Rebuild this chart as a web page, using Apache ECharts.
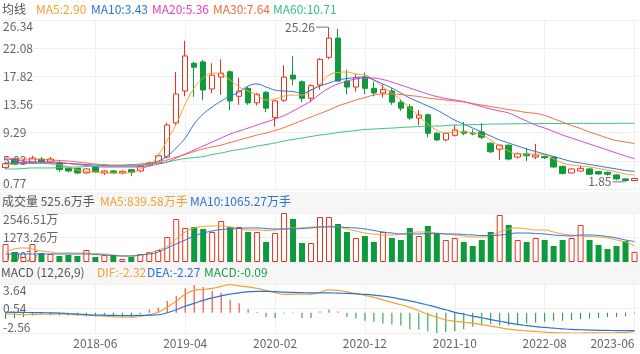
<!DOCTYPE html>
<html><head><meta charset="utf-8">
<script src="https://cdn.jsdelivr.net/npm/echarts/dist/echarts.min.js"></script>
<style>html,body{margin:0;padding:0;background:#fff}#c{width:640px;height:354px}</style>
</head><body><div id="c"></div>
<script>
const months = ['2017-08','2017-09','2017-10','2017-11','2017-12',
'2018-01','2018-02','2018-03','2018-04','2018-05','2018-06','2018-07','2018-08','2018-09','2018-10','2018-11','2018-12',
'2019-01','2019-02','2019-03','2019-04','2019-05','2019-06','2019-07','2019-08','2019-09','2019-10','2019-11','2019-12',
'2020-01','2020-02','2020-03','2020-04','2020-05','2020-06','2020-07','2020-08','2020-09','2020-10','2020-11','2020-12',
'2021-01','2021-02','2021-03','2021-04','2021-05','2021-06','2021-07','2021-08','2021-09','2021-10','2021-11','2021-12',
'2022-01','2022-02','2022-03','2022-04','2022-05','2022-06','2022-07','2022-08','2022-09','2022-10','2022-11','2022-12',
'2023-01','2023-02','2023-03','2023-04','2023-05','2023-06'];

const open = [4.0,5.3,4.6,4.7,5.3,4.85,4.7,3.9,3.9,3.2, 4.1,3.2,3.5,3.2,3.7,3.5,4.4,4.7,5.6,10.75,
 15.6,19.8,20.0,15.9,17.7,18.5,14.8,16.0,13.8,15.4, 11.6,14.2,18.0,17.0,14.5,16.5,20.7,23.6,17.1,16.2,
 17.7,16.0,15.3,15.6,13.9,13.2,11.5,12.0,9.2,8.2, 8.9,9.5,9.25,9.4,7.7,6.8,7.4,5.6,6.1,5.6,
 5.7,5.6,4.2,3.2,3.5,3.8,3.4,3.3,2.9,2.3, 2.05];
const close = [4.6,4.55,4.8,5.45,4.85,5.3,3.7,3.5,3.2,3.8, 3.35,3.5,3.2,3.45,3.3,4.2,4.7,5.8,10.45,15.14,
 20.9,19.2,15.75,18.0,18.3,14.1,15.6,13.8,15.1,13.0, 14.1,17.7,17.4,14.5,16.4,20.4,23.6,17.1,16.2,17.6,
 16.0,15.3,15.8,13.9,13.0,11.5,11.95,9.2,8.2,9.2, 9.7,9.2,9.1,8.6,6.4,7.4,5.3,6.1,5.8,5.9,
 5.5,4.1,3.1,3.8,3.9,3.0,3.05,3.0,2.3,2.05, 2.35];
const low = [3.8,4.4,4.4,4.6,4.7,4.7,3.35,3.3,3.0,3.1, 3.2,2.9,3.0,3.0,2.7,3.3,4.2,4.6,5.4,10.3,
 14.8,14.7,14.2,15.3,15.0,12.7,13.5,13.5,13.4,12.4, 10.2,13.9,16.5,13.9,13.9,15.8,20.4,17.0,15.1,15.5,
 15.1,14.8,14.6,13.5,12.6,11.2,10.4,8.6,8.0,8.0, 8.7,8.9,8.9,8.3,6.2,5.16,5.1,5.4,5.0,5.3,
 5.3,4.0,3.0,3.1,3.4,2.9,2.9,2.8,2.1,1.85, 2.0];
const high = [4.9,5.5,5.2,5.8,5.6,5.6,5.1,4.0,4.0,3.9, 4.2,3.6,3.6,3.55,3.8,4.3,4.9,6.1,10.8,18.47,
 23.2,20.0,20.3,19.8,20.4,18.7,17.6,16.2,15.3,15.6, 14.2,19.5,20.9,17.2,16.6,20.6,25.26,25.0,18.8,18.2,
 18.4,17.0,16.6,16.0,14.3,13.6,12.7,12.2,9.4,9.3, 10.45,10.9,9.8,10.75,7.8,7.5,7.5,6.3,7.0,7.6,
 5.8,5.7,4.3,3.9,4.3,3.95,3.5,3.4,3.0,2.4, 2.45];

const ma5 = [4.4,4.55,4.7,4.7,4.7,4.55,4.4,4.1,3.64,3.42, 3.34,3.19,3.19,3.19,3.27,3.79,4.4,5.91,8.18,10.6,
 13.62,16.04,17.56,18.31,18.16,17.25,16.2,15.59,14.98,14.23, 14.38,14.83,14.98,14.98,15.74,16.65,18.01,18.39,18.46,18.16,
 18.01,17.25,16.2,15.29,14.23,13.02,11.81,10.6,9.69,9.24, 9.39,9.39,9.24,8.94,8.18,7.27,6.52,6.06,6.06,6.06,
 5.91,5.31,4.7,4.4,4.25,4.1,3.87,3.64,3.34,3.04, 2.90];
const ma10 = [4.7,4.7,4.7,4.7,4.7,4.7,4.7,4.63,4.55,4.47, 4.4,4.32,4.25,4.25,4.25,4.32,4.55,5.0,5.76,6.97,
 8.48,10.6,12.11,13.17,14.08,14.83,15.44,16.35,16.65,16.2, 15.74,15.59,15.51,15.29,15.74,16.35,16.8,17.25,17.48,17.63,
 17.71,17.25,16.65,16.04,15.29,14.53,13.93,13.32,12.72,11.96, 11.2,10.6,9.99,9.39,8.78,8.18,7.73,7.27,6.82,6.44,
 6.06,5.68,5.31,4.93,4.7,4.47,4.25,4.02,3.8,3.57, 3.43];
const ma20 = [5.31,5.16,5.0,4.93,4.85,4.85,4.78,4.63,4.47,4.32, 4.17,4.1,4.1,4.1,4.1,4.1,4.25,4.55,4.85,5.46,
 6.06,6.67,7.27,7.88,8.48,9.09,9.54,9.99,10.45,10.9, 11.36,11.88,12.57,13.32,14.08,15.14,16.04,16.65,17.1,17.4,
 17.56,17.56,17.33,16.95,16.5,16.04,15.59,15.14,14.76,14.46, 14.23,14.0,13.62,13.25,12.87,12.57,12.26,11.66,11.05,10.45,
 9.99,9.47,8.94,8.48,8.03,7.57,7.12,6.67,6.21,5.76, 5.36];
const ma30 = [5.46,5.38,5.31,5.31,5.23,5.16,5.08,5.0,4.85,4.7, 4.55,4.47,4.4,4.4,4.47,4.55,4.7,4.93,5.16,5.61,
 5.99,6.44,6.82,7.12,7.42,7.8,8.18,8.56,8.94,9.24, 9.62,10.07,10.6,11.13,11.66,12.19,12.72,13.32,13.78,14.23,
 14.61,14.98,15.14,15.14,15.06,14.91,14.76,14.53,14.38,14.23, 14.08,13.93,13.7,13.47,13.25,13.02,12.79,12.57,12.34,12.2,
 11.9,11.4,10.9,10.37,9.92,9.39,8.94,8.48,8.1,7.88, 7.64];
const ma60 = [3.8,3.8,3.87,3.95,3.95,3.95,4.02,4.1,4.1,4.17, 4.25,4.25,4.25,4.32,4.4,4.4,4.55,4.7,4.85,5.15,
 5.38,5.53,5.68,5.99,6.21,6.52,6.74,6.97,7.27,7.5, 7.73,8.03,8.26,8.48,8.71,8.94,9.09,9.31,9.47,9.62,
 9.77,9.84,9.92,9.99,10.07,10.15,10.22,10.3,10.3,10.37, 10.45,10.45,10.52,10.52,10.6,10.6,10.62,10.64,10.65,10.66,
 10.67,10.68,10.68,10.69,10.69,10.7,10.7,10.7,10.71,10.71, 10.71];

const volume = [935,520,260,935,468,416,312,364,312,624, 260,364,364,156,260,416,520,624,1299,2235,
 1767,1819,1715,1559,2131,1819,1819,1559,1559,1039, 1507,2546.51,2235,987,987,2339,2339,1975,1559,1247,
 1351,1039,1559,1247,1143,1767,1351,1871,1455,1143, 1247,1039,832,1143,1559,2443,1923,1143,1039,1247,
 1143,832,1143,1247,1923,1143,884,676,832,1091, 525.6];
const volMa5 = [520,676,728,676,572,520,468,468,468,468, 442,416,364,312,312,364,468,624,832,1195,
 1559,1767,1845,1871,1871,1819,1741,1663,1663,1637, 1663,1715,1767,1767,1819,1819,1871,1819,1715,1611,
 1507,1455,1403,1403,1455,1507,1559,1559,1507,1455, 1403,1351,1299,1299,1403,1559,1715,1767,1715,1663,
 1663,1559,1455,1403,1351,1325,1299,1247,1143,1039, 839.58];
const volMa10 = [416,416,416,416,416,416,416,416,416,416, 390,364,338,312,312,364,416,520,728,935,
 1143,1351,1507,1611,1689,1715,1741,1767,1767,1741, 1715,1715,1715,1741,1767,1819,1819,1819,1793,1767,
 1715,1637,1559,1507,1455,1455,1455,1481,1481,1455, 1455,1429,1403,1377,1377,1403,1455,1507,1507,1481,
 1455,1403,1377,1351,1403,1403,1377,1325,1247,1143, 1065.27];

const dif = [-0.15,-0.19,-0.23,-0.21,-0.19,-0.16,-0.15,-0.19,-0.25,-0.31, -0.38,-0.44,-0.5,-0.57,-0.57,-0.44,-0.25,0.06,0.69,1.45,
 2.33,2.83,2.96,3.08,3.33,3.55,3.4,3.27,3.08,2.83, 2.58,2.33,2.35,2.36,2.36,2.58,2.89,2.83,2.64,2.45,
 2.2,1.95,1.64,1.32,1.01,0.69,0.25,-0.19,-0.57,-0.88, -1.07,-1.2,-1.32,-1.51,-1.7,-1.89,-2.08,-2.2,-2.29,-2.36,
 -2.45,-2.52,-2.55,-2.56,-2.56,-2.55,-2.54,-2.53,-2.52,-2.5, -2.32];
const dea = [0.09,0.06,0.04,0.03,0.01,-0.01,-0.04,-0.1,-0.16,-0.23, -0.29,-0.31,-0.34,-0.35,-0.35,-0.34,-0.31,-0.25,0,0.38,
 0.82,1.19,1.57,1.89,2.14,2.35,2.52,2.64,2.7,2.7, 2.67,2.6,2.58,2.54,2.52,2.52,2.52,2.48,2.45,2.39,
 2.33,2.24,2.11,1.95,1.72,1.51,1.26,0.98,0.69,0.38, 0.06,-0.19,-0.42,-0.63,-0.86,-1.07,-1.28,-1.47,-1.62,-1.75,
 -1.86,-1.95,-2.03,-2.1,-2.15,-2.19,-2.22,-2.24,-2.25,-2.26, -2.27];
const macd = [-0.75,-0.7,-0.55,-0.35,-0.2,-0.3,-0.35,-0.35,-0.35,-0.45, -0.45,-0.35,-0.35,-0.55,-0.55,-0.15,0.42,0.63,1.48,2.11,
 3.1,3.5,3.25,2.8,2.5,1.65,1.2,0.45,0.1,-0.55, -0.65,-0.08,0.05,-0.65,-0.65,0.2,0.42,0.15,-0.55,-0.72,
 -1.0,-1.15,-1.36,-1.5,-1.62,-2.08,-2.15,-2.33,-2.56,-2.44, -2.33,-2.08,-1.73,-1.62,-1.44,-1.62,-1.62,-1.44,-1.36,-1.26,
 -1.15,-1.0,-1.0,-0.9,-0.8,-0.72,-0.65,-0.55,-0.55,-0.45, -0.09];

const priceTicks = ['0.77','5.03','9.29','13.56','17.82','22.08','26.34'];
const volTicks = ['0.00万','1273.26万','2546.51万'];
const macdTicks = ['-2.56','0.54','3.64'];

const RED = '#e8321c', GREEN = '#0f9a3c';
const C5 = '#f5a030', C10 = '#2a74d5', C20 = '#e03fc4', C30 = '#f26a40', C60 = '#33c280';
const FONT = "'Noto Sans CJK SC','Noto Sans',sans-serif";
const last = a => a[a.length - 1];
const nearestTick = (ticks, v) => {
  let best = ticks[0], d = Infinity;
  ticks.forEach(t => { const dd = Math.abs(parseFloat(t) - v); if (dd < d) { d = dd; best = t; } });
  return best;
};

const candleData = open.map((o, i) => [o, close[i], low[i], high[i]]);
const volData = volume.map((v, i) => close[i] >= open[i]
  ? { value: v, itemStyle: { color: '#fff', borderColor: RED, borderWidth: 1 } }
  : { value: v, itemStyle: { color: GREEN } });
const macdData = macd.map(v => ({ value: v, itemStyle: { color: v >= 0 ? RED : GREEN } }));

let iMax = 0, iMin = 0;
high.forEach((h, i) => { if (h > high[iMax]) iMax = i; });
low.forEach((l, i) => { if (l < low[iMin]) iMin = i; });

const labelIdx = (i) => i > 0 && i % 10 === 0;
const mkX = (gi, showLabel) => ({
  type: 'category', gridIndex: gi, data: months, boundaryGap: true,
  axisLine: { show: false }, axisTick: { show: false },
  axisLabel: { show: showLabel, interval: labelIdx, color: '#666', fontSize: 12, fontFamily: FONT, margin: 4, alignMaxLabel: 'right' },
  splitLine: { show: true, interval: labelIdx, alignWithLabel: true, lineStyle: { color: '#f0f0f0', width: 1 } }
});
const mkY = (gi, ticks) => {
  const mn = parseFloat(ticks[0]), mx = parseFloat(ticks[ticks.length - 1]);
  return {
    type: 'value', gridIndex: gi, min: mn, max: mx, interval: (mx - mn) / (ticks.length - 1),
    axisLine: { show: false }, axisTick: { show: false },
    axisLabel: { inside: true, margin: 2, color: '#666', fontSize: 12, fontFamily: FONT,
      verticalAlignMinLabel: 'bottom', verticalAlignMaxLabel: 'top',
      formatter: v => nearestTick(ticks, v) },
    splitLine: { show: true, lineStyle: { color: '#f0f0f0', width: 1 } }
  };
};
const ttl = (text, left, top, color) => ({ text, left, top, padding: 0,
  textStyle: { fontSize: 12, fontWeight: 'normal', color, fontFamily: FONT } });
const line = (name, data, color, xi, yi, w) => ({
  name, type: 'line', data, xAxisIndex: xi, yAxisIndex: yi, smooth: true, showSymbol: false,
  symbol: 'none', lineStyle: { color, width: w || 1 }, z: 5, silent: true
});

const chart = echarts.init(document.getElementById('c'), null, { renderer: 'canvas' });
chart.setOption({
  animation: false,
  backgroundColor: '#fff',
  title: [
    ttl('均线', 2, 3, '#555'),
    ttl('MA5:' + last(ma5).toFixed(2), 36, 3, C5),
    ttl('MA10:' + last(ma10).toFixed(2), 91, 3, C10),
    ttl('MA20:' + last(ma20).toFixed(2), 152, 3, C20),
    ttl('MA30:' + last(ma30).toFixed(2), 213, 3, C30),
    ttl('MA60:' + last(ma60).toFixed(2), 273, 3, C60),
    ttl('成交量 ' + last(volume) + '万手', 2, 195, '#555'),
    ttl('MA5:' + last(volMa5).toFixed(2) + '万手', 100, 195, C5),
    ttl('MA10:' + last(volMa10).toFixed(2) + '万手', 190, 195, C10),
    ttl('MACD (12,26,9)', 1, 266, '#555'),
    ttl('DIF:' + last(dif).toFixed(2), 97, 266, C5),
    ttl('DEA:' + last(dea).toFixed(2), 147, 266, C10),
    ttl('MACD:' + last(macd).toFixed(2), 204, 266, '#1a9e47')
  ],
  graphic: [
    { type: 'rect', z: -10, shape: { x: 0, y: 192, width: 640, height: 21 }, style: { fill: '#f6f6f6' } },
    { type: 'rect', z: -10, shape: { x: 0, y: 263, width: 640, height: 21 }, style: { fill: '#f6f6f6' } }
  ],
  grid: [
    { left: 0, right: 1, top: 20, height: 169 },
    { left: 0, right: 1, top: 213, height: 49 },
    { left: 0, right: 1, top: 284, height: 49 }
  ],
  xAxis: [mkX(0, false), mkX(1, false), mkX(2, true)],
  yAxis: [mkY(0, priceTicks), mkY(1, volTicks), mkY(2, macdTicks)],
  series: [
    {
      name: 'K', type: 'candlestick', data: candleData, xAxisIndex: 0, yAxisIndex: 0, barWidth: 6,
      itemStyle: { color: '#fff', color0: GREEN, borderColor: RED, borderColor0: GREEN, borderWidth: 1 },
      markPoint: {
        silent: true, symbol: 'rect', symbolSize: [12, 1], symbolOffset: [-7, 0],
        itemStyle: { color: '#777' },
        label: { show: true, position: 'left', distance: 1, color: '#666', fontSize: 12, fontFamily: FONT,
          formatter: p => Number(p.value).toFixed(2) },
        data: [
          { coord: [months[iMax], high[iMax]], value: high[iMax] },
          { coord: [months[iMin], low[iMin]], value: low[iMin] }
        ]
      }
    },
    line('MA5', ma5, C5, 0, 0),
    line('MA10', ma10, C10, 0, 0),
    line('MA20', ma20, C20, 0, 0),
    line('MA30', ma30, C30, 0, 0),
    line('MA60', ma60, C60, 0, 0),
    { name: 'VOL', type: 'bar', data: volData, xAxisIndex: 1, yAxisIndex: 1, barWidth: 6 },
    line('VMA5', volMa5, C5, 1, 1),
    line('VMA10', volMa10, C10, 1, 1),
    { name: 'MACD', type: 'bar', data: macdData, xAxisIndex: 2, yAxisIndex: 2, barWidth: 1 },
    line('DIF', dif, C5, 2, 2, 1.2),
    line('DEA', dea, C10, 2, 2, 1.2)
  ]
});
</script>
</body></html>
